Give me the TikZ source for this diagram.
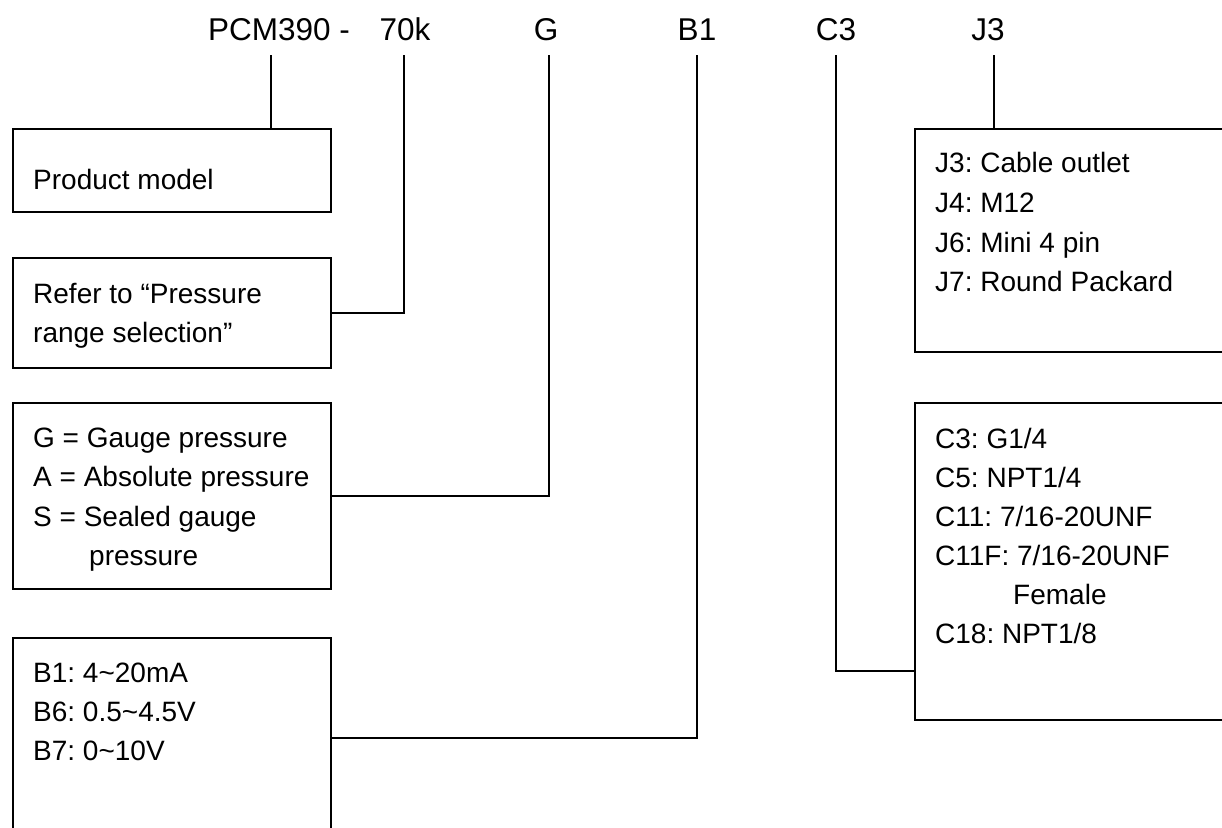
\documentclass[tikz,border=0pt]{standalone}
\usepackage{fontspec}
\setmainfont{Liberation Sans}
\frenchspacing
\begin{document}
\begin{tikzpicture}[x=1pt,y=-1pt,
  box/.style={draw, line width=1.8pt, anchor=north west, inner sep=0pt},
  wire/.style={line width=1.8pt},
  lbl/.style={anchor=base west, inner sep=0pt, font=\fontsize{28}{32}\selectfont},
  head/.style={anchor=base, inner sep=0pt, font=\fontsize{31.5}{36}\selectfont}]
\clip (0,0) rectangle (1222,827);
\fill[white] (0,0) rectangle (1222,827);

% header
\node[head, anchor=base west] (hPCM) at (208,40) {PCM390 -};
\node[head] (h70) at (405,40) {70k};
\node[head] (hG) at (546,40) {G};
\node[head] (hB) at (697,40) {B1};
\node[head] (hC) at (836,40) {C3};
\node[head] (hJ) at (988,40) {J3};

% boxes
\node[box, minimum width=318pt, minimum height=83pt] (box1) at (12,128) {};
\node[box, minimum width=318pt, minimum height=110pt] (box2) at (12,257) {};
\node[box, minimum width=318pt, minimum height=186pt] (box3) at (12,402) {};
\node[box, minimum width=318pt, minimum height=200pt] (box4) at (12,637) {};
\node[box, minimum width=330pt, minimum height=223pt] (jbox) at (914,128) {};
\node[box, minimum width=330pt, minimum height=317pt] (cbox) at (914,402) {};

% wires
\coordinate (pPCM) at (271,55);
\coordinate (p70) at (404,55);
\coordinate (pG) at (549,55);
\coordinate (pB) at (697,55);
\coordinate (pC) at (836,55);
\coordinate (pJ) at (994,55);
\draw[wire] (pPCM) -- (pPCM |- box1.north);
\draw[wire] (p70) |- (box2.east);
\draw[wire] (pG) |- (box3.east);
\draw[wire] (pB) |- (box4.east);
\draw[wire] (pC) |- ([yshift=-109.5pt]cbox.west);
\draw[wire] (pJ) -- (pJ |- jbox.north);

% texts
\node[lbl] (t1) at (33,189) {Product model};
\node[lbl] (t2a) at (33,303) {Refer to “Pressure};
\node[lbl] (t2b) at (33,342) {range selection”};
\node[lbl] (t3a) at (33,447) {G = Gauge pressure};
\node[lbl] (t3b) at (33,486) {A = Absolute pressure};
\node[lbl] (t3c) at (33,526) {S = Sealed gauge};
\node[lbl] (t3d) at (89,565) {pressure};
\node[lbl] (t4a) at (33,682) {B1: 4\textasciitilde 20mA};
\node[lbl] (t4b) at (33,721) {B6: 0.5\textasciitilde 4.5V};
\node[lbl] (t4c) at (33,760) {B7: 0\textasciitilde 10V};
\node[lbl] (tja) at (935,172) {J3: Cable outlet};
\node[lbl] (tjb) at (935,212) {J4: M12};
\node[lbl] (tjc) at (935,252) {J6: Mini 4 pin};
\node[lbl] (tjd) at (935,291) {J7: Round Packard};
\node[lbl] (tca) at (935,448) {C3: G1/4};
\node[lbl] (tcb) at (935,487) {C5: NPT1/4};
\node[lbl] (tcc) at (935,526) {C11: 7/16-20UNF};
\node[lbl] (tcd) at (935,565) {C11F: 7/16-20UNF};
\node[lbl] (tce) at (1013,604) {Female};
\node[lbl] (tcf) at (935,643) {C18: NPT1/8};
\end{tikzpicture}
\end{document}
